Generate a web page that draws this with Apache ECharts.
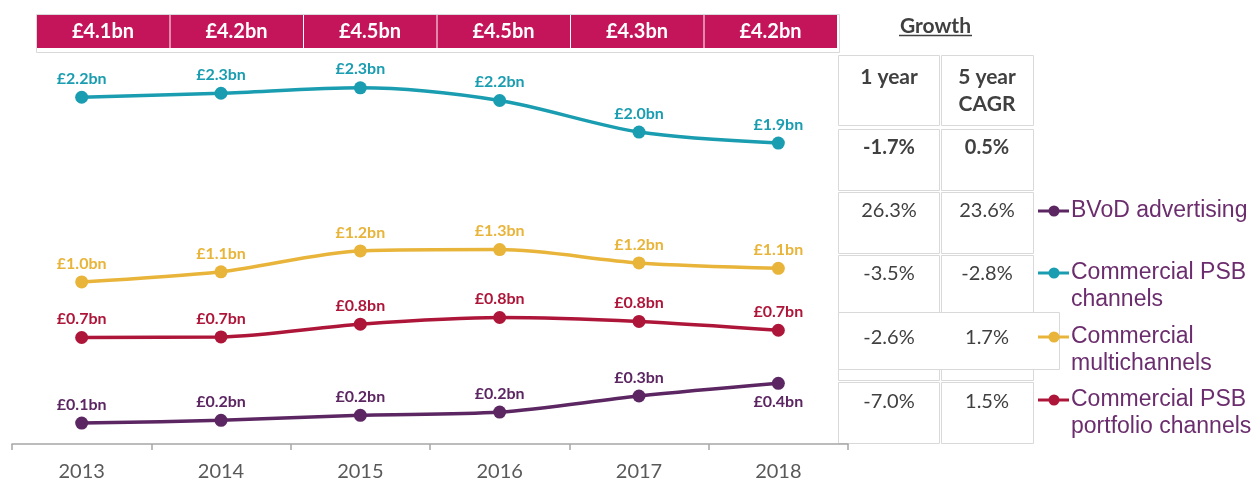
<!DOCTYPE html>
<html>
<head>
<meta charset="utf-8">
<script src="https://cdn.jsdelivr.net/npm/echarts@6/dist/echarts.min.js"></script>
<style>
html,body{margin:0;padding:0;background:#fff;}
#main{width:1253px;height:482px;}
</style>
</head>
<body>
<div id="main"></div>
<script>
var years = ['2013','2014','2015','2016','2017','2018'];
var totals = ['£4.1bn','£4.2bn','£4.5bn','£4.5bn','£4.3bn','£4.2bn'];

var bvodValues = [0.135,0.153,0.185,0.206,0.310,0.392];
var bvodLabels = ['£0.1bn','£0.2bn','£0.2bn','£0.2bn','£0.3bn','£0.4bn'];
var psbValues = [2.240,2.266,2.301,2.219,2.015,1.944];
var psbLabels = ['£2.2bn','£2.3bn','£2.3bn','£2.2bn','£2.0bn','£1.9bn'];
var multiValues = [1.047,1.112,1.247,1.256,1.170,1.135];
var multiLabels = ['£1.0bn','£1.1bn','£1.2bn','£1.3bn','£1.2bn','£1.1bn'];
var portfolioValues = [0.688,0.692,0.774,0.817,0.792,0.735];
var portfolioLabels = ['£0.7bn','£0.7bn','£0.8bn','£0.8bn','£0.8bn','£0.7bn'];

var seriesNames = ['BVoD advertising','Commercial PSB\nchannels','Commercial\nmultichannels','Commercial PSB\nportfolio channels'];
var growthHeader = ['1 year','5 year\nCAGR'];
var growth1y = ['-1.7%','26.3%','-3.5%','-2.6%','-7.0%'];
var growth5y = ['0.5%','23.6%','-2.8%','1.7%','1.5%'];

var COLOR = {
	BVOD:'#5C2662',
	PSB:'#1A9DB0',
	MULTI:'#E8B43A',
	PORTFOLIO:'#AE1639',
	HEADER:'#C4155B',
	LEGEND_TEXT:'#6B2D6D',
	TABLE_TEXT:'#404040',
	BORDER:'#D9D9D9'
};

function makeSeries(name,values,labels,colorValue,belowIndex){
	var data = [];
	for(var i = 0; i < values.length; i++){
		var item = {value:values[i]};
		if(i === belowIndex){
			item.label = {position:'bottom'};
		}
		data.push(item);
	}
	return {
		name:name,
		type:'line',
		smooth:0.3,
		symbol:'circle',
		symbolSize:13,
		lineStyle:{width:3.5,color:colorValue},
		itemStyle:{color:colorValue},
		label:{
			show:true,
			position:'top',
			distance:4,
			color:colorValue,
			fontFamily:'Lato',
			fontWeight:'bold',
			fontSize:16,
			formatter:function(p){ return labels[p.dataIndex]; }
		},
		data:data
	};
}

function buildGraphics(){
	var g = [];
	var font = 'Lato';

	// header of totals
	g.push({type:'rect',shape:{x:36.5,y:14.5,width:803,height:38},style:{fill:'#fff',stroke:COLOR.BORDER,lineWidth:1}});
	for(var i = 0; i < totals.length; i++){
		var bx = 37 + i*133.5;
		g.push({type:'rect',shape:{x:bx,y:15,width:132.5,height:33},style:{fill:COLOR.HEADER}});
		g.push({type:'text',style:{text:totals[i],x:bx+66,y:32,align:'center',verticalAlign:'middle',
			font:'bold 20px '+font,fill:'#fff'}});
	}

	// growth title
	g.push({type:'text',style:{text:'Growth',x:935.5,y:26,align:'center',verticalAlign:'middle',
		font:'bold 21px '+font,fill:COLOR.TABLE_TEXT}});
	g.push({type:'line',shape:{x1:899,y1:35.5,x2:972,y2:35.5},style:{stroke:COLOR.TABLE_TEXT,lineWidth:1.5}});

	// table cells
	var rows = [
		{y:55,h:70,wide:false},
		{y:129,h:61,wide:false},
		{y:192,h:61,wide:false},
		{y:255,h:57,wide:false},
		{y:312,h:57,wide:true},
		{y:369,h:11,wide:false},
		{y:382,h:61,wide:false}
	];
	for(var r = 0; r < rows.length; r++){
		var row = rows[r];
		if(row.wide){
			g.push({type:'rect',shape:{x:838.5,y:row.y+0.5,width:221,height:row.h},style:{fill:'none',stroke:COLOR.BORDER,lineWidth:1}});
		}else{
			g.push({type:'rect',shape:{x:838.5,y:row.y+0.5,width:101,height:row.h},style:{fill:'none',stroke:COLOR.BORDER,lineWidth:1}});
			g.push({type:'rect',shape:{x:941.5,y:row.y+0.5,width:92,height:row.h},style:{fill:'none',stroke:COLOR.BORDER,lineWidth:1}});
		}
	}

	var colX = [889,987];
	for(var c = 0; c < growthHeader.length; c++){
		g.push({type:'text',style:{text:growthHeader[c],x:colX[c],y:63.5,align:'center',verticalAlign:'top',lineHeight:27,
			font:'bold 21px '+font,fill:COLOR.TABLE_TEXT}});
	}
	var rowY = [148,211,274,338,402];
	for(var k = 0; k < growth1y.length; k++){
		var f = (k === 0 ? 'bold ' : '') + '20px ' + font;
		g.push({type:'text',style:{text:growth1y[k],x:colX[0],y:rowY[k],align:'center',verticalAlign:'middle',font:f,fill:COLOR.TABLE_TEXT}});
		g.push({type:'text',style:{text:growth5y[k],x:colX[1],y:rowY[k],align:'center',verticalAlign:'middle',font:f,fill:COLOR.TABLE_TEXT}});
	}

	// legend
	var legendColors = [COLOR.BVOD,COLOR.PSB,COLOR.MULTI,COLOR.PORTFOLIO];
	var legendY = [211,273,337,400];
	for(var j = 0; j < seriesNames.length; j++){
		var ly = legendY[j];
		g.push({type:'line',shape:{x1:1038,y1:ly,x2:1069,y2:ly},style:{stroke:legendColors[j],lineWidth:3}});
		g.push({type:'circle',shape:{cx:1054,cy:ly,r:5.5},style:{fill:legendColors[j]}});
		g.push({type:'text',style:{text:seriesNames[j],x:1071,y:ly-13.5,align:'left',verticalAlign:'top',lineHeight:27,
			font:'23px "Liberation Sans"',fill:COLOR.LEGEND_TEXT}});
	}
	return g;
}

var myChart = echarts.init(document.getElementById('main'));
myChart.setOption({
	backgroundColor:'#fff',
	animation:false,
	grid:{left:12,right:405,top:57,bottom:38},
	xAxis:{
		type:'category',
		data:years,
		boundaryGap:true,
		axisLine:{show:true,lineStyle:{color:'#A6A6A6',width:1.5}},
		axisTick:{show:true,length:6,lineStyle:{color:'#A6A6A6',width:1.5}},
		axisLabel:{margin:18,color:'#595959',fontFamily:'Lato',fontSize:20}
	},
	yAxis:{
		type:'value',
		min:0,
		max:2.5,
		show:false,
		splitLine:{show:false}
	},
	series:[
		makeSeries(seriesNames[1],psbValues,psbLabels,COLOR.PSB,-1),
		makeSeries(seriesNames[2],multiValues,multiLabels,COLOR.MULTI,-1),
		makeSeries(seriesNames[3],portfolioValues,portfolioLabels,COLOR.PORTFOLIO,-1),
		makeSeries(seriesNames[0],bvodValues,bvodLabels,COLOR.BVOD,5)
	],
	graphic:buildGraphics()
});
</script>
</body>
</html>
